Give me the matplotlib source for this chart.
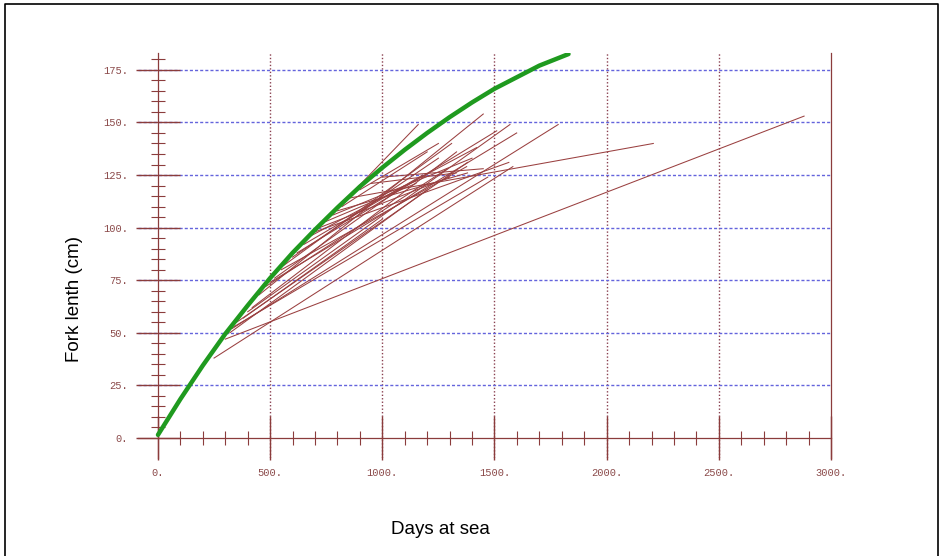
import matplotlib
matplotlib.use("Agg")
import matplotlib.pyplot as plt
from matplotlib.ticker import FixedLocator, FuncFormatter
from matplotlib.lines import Line2D

# growth curve
green_days = [0, 50, 100, 200, 300, 400, 500, 600, 700, 800, 900, 1000,
              1100, 1200, 1300, 1400, 1500, 1600, 1700, 1830]
green_len = [1.5, 10, 18.5, 34.5, 49.5, 63, 76, 88, 99, 109.5, 119.5, 128.5,
             137, 145, 152.5, 159.5, 166, 171.5, 177, 182.5]

# tag-recapture increments: release (days, length) -> recapture (days, length)
rel_days = [300, 250, 330, 340, 320, 350, 400, 420, 450, 480, 500, 520, 550, 560, 600,
            620, 650, 680, 700, 720, 750, 780, 800, 850, 870, 900, 950, 1000, 820, 380]
rel_len = [47, 38, 52, 53, 50, 55, 60, 62, 68, 72, 74, 76, 80, 82, 86,
           88, 92, 96, 98, 100, 103, 106, 108, 114, 117, 118, 121, 124, 110, 57]
rec_days = [2880, 1582, 1784, 1470, 1200, 1380, 1569, 1331, 1450, 1290, 1599, 1100, 1376, 1309, 1250,
            1510, 1180, 1420, 1564, 1300, 1150, 1400, 1380, 2208, 1160, 1250, 1330, 1450, 1200, 1000]
rec_len = [153, 129, 149, 124, 118, 131, 149, 136, 154, 128, 145, 120, 129, 140, 133,
           146, 125, 138, 131, 124, 121, 133, 126, 140, 149, 140, 126, 128, 136, 104]

x_major = [0, 500, 1000, 1500, 2000, 2500, 3000]
y_major = [0, 25, 50, 75, 100, 125, 150, 175]
x_minor = [v for v in range(100, 3000, 100) if v % 500]
y_minor = [v for v in range(5, 185, 5) if v % 25]

axis_col = "#8b3c3c"
seg_col = "#9a4040"

fig = plt.figure(figsize=(9.45, 5.56), dpi=100)
ax = fig.add_axes([138 / 945, 1 - 458 / 556, (831 - 138) / 945, (458 - 53) / 556])

ax.set_xlim(-89, 3000)
ax.set_ylim(-9.5, 183)

# grid
ax.set_axisbelow(True)
ax.yaxis.grid(True, color="#6464dc", linewidth=1.0, linestyle=(0, (2.2, 1.5)))
ax.xaxis.grid(True, color="#8a4050", linewidth=1.0, linestyle=(0, (1.0, 1.5)))

# recapture segments
for i in range(len(rel_days)):
    ax.plot([rel_days[i], rec_days[i]], [rel_len[i], rec_len[i]],
            color=seg_col, linewidth=0.75, zorder=3)

# growth curve
ax.plot(green_days, green_len, color="#1f9a1f", linewidth=3.2,
        solid_capstyle="round", zorder=4)

# axes drawn through the origin
ax.spines["left"].set_position(("data", 0))
ax.spines["bottom"].set_position(("data", 0))
ax.spines["top"].set_visible(False)
for s in ["left", "bottom", "right"]:
    ax.spines[s].set_color(axis_col)
    ax.spines[s].set_linewidth(0.9)

ax.xaxis.set_major_locator(FixedLocator(x_major))
ax.xaxis.set_minor_locator(FixedLocator(x_minor))
ax.yaxis.set_major_locator(FixedLocator(y_major))
ax.yaxis.set_minor_locator(FixedLocator(y_minor))
fmt = FuncFormatter(lambda v, p: "%d." % v)
ax.xaxis.set_major_formatter(fmt)
ax.yaxis.set_major_formatter(fmt)

ax.tick_params(which="major", direction="inout", length=31, width=1.0,
               color=axis_col, labelcolor="#8b4a4a", labelsize=7.5, pad=6)
ax.tick_params(which="minor", direction="inout", length=10, width=0.8, color=axis_col)
for lab in ax.get_xticklabels() + ax.get_yticklabels():
    lab.set_family("Liberation Mono")

# no grid line on top of the axis lines themselves
xt = ax.xaxis.get_major_ticks()
yt = ax.yaxis.get_major_ticks()
xt[0].gridline.set_visible(False)
xt[-1].gridline.set_visible(False)
yt[0].gridline.set_visible(False)

fig.text(75 / 945, 1 - 299 / 556, "Fork lenth (cm)", rotation=90,
         ha="center", va="center", fontsize=13.5, family="Liberation Sans")
fig.text(440 / 945, 1 - 530 / 556, "Days at sea",
         ha="center", va="center", fontsize=13.5, family="Liberation Sans")

# frame around the picture (open at the bottom)
fig.add_artist(Line2D([5 / 945, 5 / 945, 938 / 945, 938 / 945],
                      [0, 1 - 4 / 556, 1 - 4 / 556, 0],
                      transform=fig.transFigure, color="black", linewidth=1.2))

fig.savefig("out.png", dpi=100)
